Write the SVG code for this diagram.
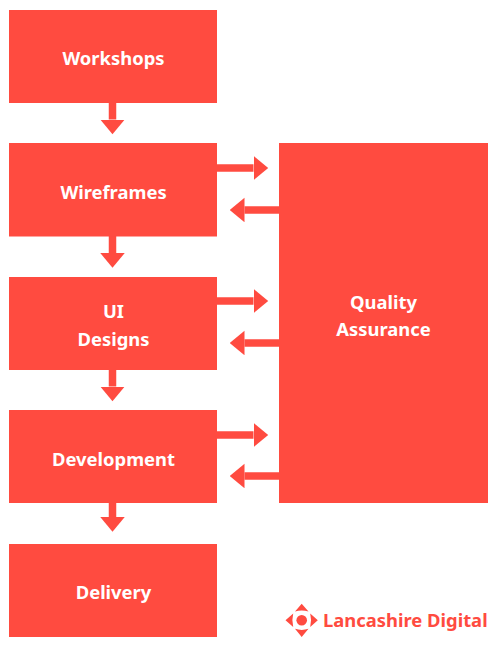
<svg xmlns="http://www.w3.org/2000/svg" width="500" height="646" viewBox="0 0 500 646">
<style>
.box{fill:#ff4b40}
.lbl{font-family:"Noto Sans","Open Sans",sans-serif;font-weight:700;font-size:18.4px;fill:#fff;text-anchor:middle}
.con{stroke:#ff4b40;stroke-width:7.5;fill:none;marker-end:url(#ah)}
</style>
<defs>
<marker id="ah" markerUnits="userSpaceOnUse" markerWidth="15" markerHeight="25" refX="0" refY="12.25" orient="auto">
<path d="M0 0L14.7 12.25L0 24.5Z" fill="#ff4b40"/>
</marker>
</defs>
<g id="connectors">
<line class="con" x1="112.500" y1="103" x2="112.500" y2="119.500"/>
<line class="con" x1="112.500" y1="236" x2="112.500" y2="253"/>
<line class="con" x1="112.500" y1="370" x2="112.500" y2="386.500"/>
<line class="con" x1="112.500" y1="503" x2="112.500" y2="517"/>
<line class="con" x1="217" y1="168" x2="253.500" y2="168"/>
<line class="con" x1="217" y1="301" x2="253.500" y2="301"/>
<line class="con" x1="217" y1="435" x2="253.500" y2="435"/>
<line class="con" x1="279" y1="210" x2="244.500" y2="210"/>
<line class="con" x1="279" y1="343" x2="244.500" y2="343"/>
<line class="con" x1="279" y1="476" x2="244.500" y2="476"/>
</g>
<g id="workshops"><rect class="box" x="9" y="10" width="208" height="93"/><text class="lbl" x="113.500" y="65">Workshops</text></g>
<g id="wireframes"><rect class="box" x="9" y="143" width="208" height="93.500"/><text class="lbl" x="113.500" y="198.500">Wireframes</text></g>
<g id="ui-designs"><rect class="box" x="9" y="277" width="208" height="93"/><text class="lbl" x="113.500" y="318">UI</text><text class="lbl" x="113.500" y="345.500">Designs</text></g>
<g id="development"><rect class="box" x="9" y="410" width="208" height="93"/><text class="lbl" x="113.500" y="465.500">Development</text></g>
<g id="delivery"><rect class="box" x="9" y="544" width="208" height="93"/><text class="lbl" x="113.500" y="599">Delivery</text></g>
<g id="quality-assurance"><rect class="box" x="279" y="143" width="209" height="360"/><text class="lbl" x="383.500" y="309">Quality</text><text class="lbl" x="383.500" y="336">Assurance</text></g>
<g id="logo">
<circle cx="301.700" cy="620.300" r="5.300" fill="#ff4b40"/>
<path d="M301.700 603.800L308.500 611.500Q301.700 609.500 295 611.500ZM301.700 637L295 628.800Q301.700 631 308.500 628.800ZM285.500 620.300L293.200 613.500Q291.500 620.300 293.200 627ZM317.800 620.300L310.200 613.500Q312 620.300 310.200 627Z" fill="#ff4b40"/>
<text x="323" y="627" font-family="'Noto Sans','Open Sans',sans-serif" font-weight="700" font-size="18.400" fill="#ff4b40">Lancashire Digital</text>
</g>
</svg>
